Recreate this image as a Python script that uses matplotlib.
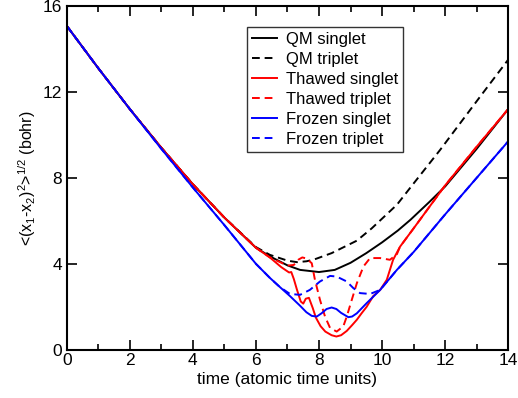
import matplotlib
matplotlib.use('Agg')
import matplotlib.pyplot as plt
from matplotlib.ticker import MultipleLocator

plt.rcParams['font.family'] = ['Liberation Sans', 'DejaVu Sans']
plt.rcParams['mathtext.default'] = 'regular'

# QM singlet
t_qms = [0, 1, 2, 3, 4, 5, 6, 6.44, 7.0, 7.4, 8.0, 8.5, 9.0, 9.5, 10.0, 10.5, 10.9, 11.5, 12, 13, 14]
d_qms = [15.07, 13.1, 11.2, 9.4, 7.7, 6.15, 4.75, 4.35, 3.93, 3.72, 3.62, 3.72, 4.05, 4.5, 5.0, 5.55, 6.05, 6.88, 7.6, 9.35, 11.2]

# QM triplet
t_qmt = [0, 1, 2, 3, 4, 5, 6, 6.44, 7.0, 7.3, 7.6, 7.82, 8.4, 9.2, 9.67, 10.47, 11.0, 11.84, 13.11, 14]
d_qmt = [15.07, 13.1, 11.2, 9.4, 7.7, 6.15, 4.78, 4.42, 4.15, 4.08, 4.12, 4.19, 4.5, 5.08, 5.65, 6.75, 7.74, 9.3, 11.78, 13.5]

# thawed singlet
t_ths = [0, 1, 2, 3, 4, 5, 6, 6.44, 6.8, 7.05, 7.12, 7.2, 7.3, 7.42, 7.5, 7.58, 7.68, 7.8, 7.9, 8.05,
         8.2, 8.4, 8.55, 8.7, 8.88, 9.05, 9.2, 9.35, 9.51, 9.72, 9.94, 10.15, 10.35, 10.57, 11.0,
         11.5, 12, 13, 14]
d_ths = [15.07, 13.1, 11.2, 9.4, 7.7, 6.15, 4.75, 4.3, 3.85, 3.6, 3.62, 3.3, 2.8, 2.25, 2.15, 2.38, 2.42, 1.95, 1.5, 1.1,
         0.85, 0.68, 0.62, 0.68, 0.88, 1.15, 1.4, 1.7, 2.0, 2.5, 2.79, 3.26, 4.19, 4.8, 5.65,
         6.65, 7.65, 9.45, 11.2]

# thawed triplet
t_tht = [0, 1, 2, 3, 4, 5, 6, 6.44, 7.0, 7.2, 7.35, 7.47, 7.6, 7.77, 7.87, 8.03, 8.19, 8.35, 8.56, 8.77,
         8.88, 9.04, 9.2, 9.41, 9.62, 9.94, 10.25, 10.47, 10.57, 11.0, 11.5, 12, 13, 14]
d_tht = [15.07, 13.1, 11.2, 9.4, 7.7, 6.15, 4.75, 4.3, 3.92, 3.95, 4.2, 4.3, 4.25, 4.03, 3.26, 2.33, 1.55, 1.02, 0.85, 1.09,
         1.55, 2.33, 3.1, 3.88, 4.27, 4.27, 4.19, 4.45, 4.8, 5.65, 6.65, 7.65, 9.45, 11.2]

# frozen singlet
t_frs = [0, 1, 2, 3, 4, 5, 6, 6.44, 6.76, 7.08, 7.4, 7.6, 7.77, 7.93, 8.08, 8.24, 8.4, 8.55, 8.7, 8.93,
         9.05, 9.2, 9.51, 9.94, 10.47, 11, 12, 13, 14]
d_frs = [15.07, 13.1, 11.2, 9.35, 7.55, 5.8, 4.0, 3.35, 2.92, 2.5, 2.05, 1.75, 1.58, 1.55, 1.7, 1.9, 1.97, 1.9, 1.72, 1.52,
         1.55, 1.7, 2.17, 2.79, 3.72, 4.55, 6.3, 8.0, 9.7]

# frozen triplet
t_frt = [0, 1, 2, 3, 4, 5, 6, 6.44, 6.76, 7.08, 7.4, 7.71, 8.03, 8.35, 8.56, 8.88, 9.09, 9.3, 9.62, 9.94,
         10.47, 11, 12, 13, 14]
d_frt = [15.07, 13.1, 11.2, 9.35, 7.55, 5.8, 4.0, 3.35, 2.92, 2.6, 2.56, 2.79, 3.18, 3.44, 3.41, 3.18, 2.87, 2.64, 2.6, 2.79,
         3.72, 4.55, 6.3, 8.0, 9.7]

fig = plt.figure(figsize=(5.18, 3.98), dpi=100)
ax = fig.add_axes([0.129, 0.121, 0.852, 0.864])

lw = 1.4
dash = (4, 2.5)
ax.plot(t_qms, d_qms, color='black', lw=lw, label='QM singlet')
ax.plot(t_qmt, d_qmt, color='black', lw=lw, dashes=dash, label='QM triplet')
ax.plot(t_ths, d_ths, color='red', lw=lw, label='Thawed singlet')
ax.plot(t_tht, d_tht, color='red', lw=lw, dashes=dash, label='Thawed triplet')
ax.plot(t_frs, d_frs, color='blue', lw=lw, label='Frozen singlet')
ax.plot(t_frt, d_frt, color='blue', lw=lw, dashes=dash, label='Frozen triplet')

ax.set_xlim(0, 14)
ax.set_ylim(0, 16)
ax.xaxis.set_major_locator(MultipleLocator(2))
ax.xaxis.set_minor_locator(MultipleLocator(1))
ax.yaxis.set_major_locator(MultipleLocator(4))
ax.tick_params(which='both', direction='in', top=True, right=True, labelsize=12.5, width=1.2)
ax.tick_params(which='major', length=7)
ax.tick_params(which='minor', length=4)
ax.tick_params(axis='x', pad=2)
for s in ax.spines.values():
    s.set_linewidth(1.5)

ax.set_xlabel('time (atomic time units)', fontsize=12.5, labelpad=3)
ax.set_ylabel('<(x$_1$-x$_2$)$^2$>$^{1/2}$ (bohr)', fontsize=11.5, labelpad=3)

leg = ax.legend(loc='upper left', bbox_to_anchor=(0.408, 0.939), fontsize=12, frameon=True,
                fancybox=False, edgecolor='black', handlelength=1.5, handletextpad=0.55,
                labelspacing=0.3, borderpad=0.3, borderaxespad=0)
leg.get_frame().set_linewidth(1.0)

fig.savefig('out.png', dpi=100)
